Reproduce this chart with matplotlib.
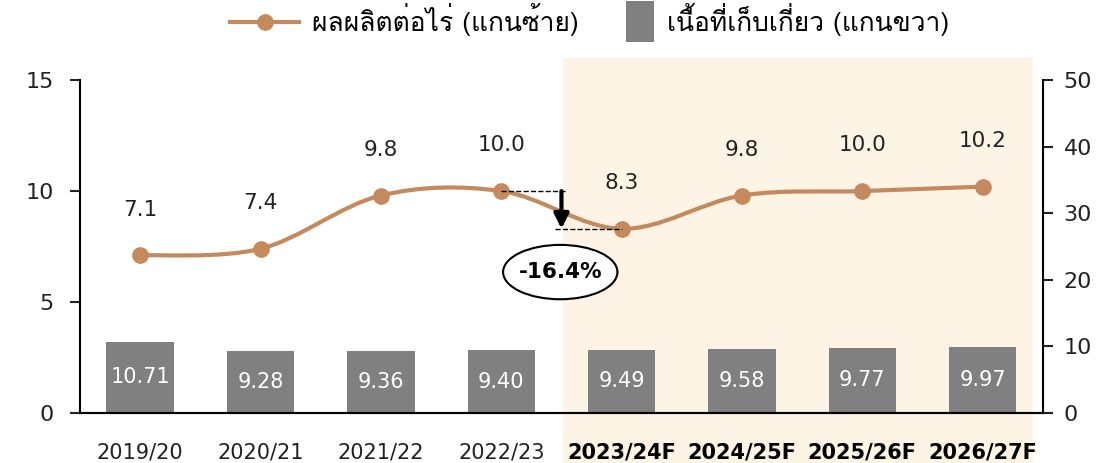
import matplotlib
matplotlib.use('Agg')
import matplotlib.pyplot as plt
from matplotlib import font_manager
from matplotlib.ft2font import FT2Font
from matplotlib.path import Path
from matplotlib.patches import PathPatch, Ellipse, Rectangle, Patch
from matplotlib.lines import Line2D
from matplotlib.legend_handler import HandlerPatch

# ข้อมูล
years = ['2019/20', '2020/21', '2021/22', '2022/23',
         '2023/24F', '2024/25F', '2025/26F', '2026/27F']
yield_per_rai = [7.1, 7.4, 9.8, 10.0, 8.3, 9.8, 10.0, 10.2]
harvest_area = [10.71, 9.28, 9.36, 9.40, 9.49, 9.58, 9.77, 9.97]
forecast_start = 4
change_label = '-16.4%'
legend_line = 'ผลผลิตต่อไร่ (แกนซ้าย)'
legend_bar = 'เนื้อที่เก็บเกี่ยว (แกนขวา)'

line_color = '#C48A5E'
bar_color = '#808080'
shade_color = '#FEF4E6'
text_color = '#222222'

# หาฟอนต์ที่มีตัวอักษรไทย
thai_font = None
for f in font_manager.fontManager.ttflist:
    try:
        if 0x0E1C in FT2Font(f.fname).get_charmap():
            thai_font = f.name
            break
    except Exception:
        pass
families = ['DejaVu Sans'] if thai_font is None else [thai_font, 'DejaVu Sans']
plt.rcParams['font.family'] = ['DejaVu Sans']

fig = plt.figure(figsize=(11.19, 4.63), dpi=100)
ax = fig.add_axes([0.0715, 0.108, 0.8605, 0.719])
ax2 = ax.twinx()
ax.set_zorder(ax2.get_zorder() + 1)
ax.patch.set_visible(False)
ax2.patch.set_visible(False)

# พื้นหลังช่วงคาดการณ์
fig.patches.append(Rectangle((0.503, 0.0), 0.42, 0.875, transform=fig.transFigure,
                             facecolor=shade_color, edgecolor='none', zorder=-5))

x = list(range(len(years)))

# แท่ง (แกนขวา)
bars = ax2.bar(x, harvest_area, width=0.56, color=bar_color, zorder=2)
ax2.bar_label(bars, labels=[f'{v:.2f}' for v in harvest_area], label_type='center',
              color='white', fontsize=15)
ax2.set_ylim(0, 50)
ax2.set_yticks([0, 10, 20, 30, 40, 50])

# เส้นโค้ง (แกนซ้าย)
verts = [(x[0], yield_per_rai[0])]
codes = [Path.MOVETO]
n = len(x)
for i in range(n - 1):
    p0 = (x[max(i - 1, 0)], yield_per_rai[max(i - 1, 0)])
    p1 = (x[i], yield_per_rai[i])
    p2 = (x[i + 1], yield_per_rai[i + 1])
    p3 = (x[min(i + 2, n - 1)], yield_per_rai[min(i + 2, n - 1)])
    c1 = (p1[0] + (p2[0] - p0[0]) / 6, p1[1] + (p2[1] - p0[1]) / 6)
    c2 = (p2[0] - (p3[0] - p1[0]) / 6, p2[1] - (p3[1] - p1[1]) / 6)
    verts += [c1, c2, p2]
    codes += [Path.CURVE4] * 3
ax.add_patch(PathPatch(Path(verts, codes), facecolor='none', edgecolor=line_color,
                       lw=3, zorder=3))
ax.plot(x, yield_per_rai, 'o', color=line_color, markersize=11, zorder=4)
for xi, v in zip(x, yield_per_rai):
    ax.annotate(f'{v:.1f}', (xi, v), xytext=(0, 33), textcoords='offset points',
                ha='center', va='center', fontsize=15.5, color=text_color)

ax.set_ylim(0, 15)
ax.set_yticks([0, 5, 10, 15])
ax.set_xlim(-0.5, 7.5)
ax2.set_xlim(-0.5, 7.5)

# ลูกศรแสดงการลดลง
i0, i1 = forecast_start - 1, forecast_start
ax.plot([x[i0], x[i0] + 0.55], [yield_per_rai[i0]] * 2, ls='--', lw=1, color='black', zorder=5)
ax.plot([x[i1] - 0.55, x[i1]], [yield_per_rai[i1]] * 2, ls='--', lw=1, color='black', zorder=5)
ax.annotate('', xy=(x[i0] + 0.5, yield_per_rai[i1]), xytext=(x[i0] + 0.5, yield_per_rai[i0]),
            arrowprops=dict(arrowstyle='-|>', lw=3, color='black', mutation_scale=22,
                            shrinkA=0, shrinkB=0), zorder=6)
ax.add_patch(Ellipse((x[i0] + 0.49, 6.35), 0.95, 2.45, facecolor='white',
                     edgecolor='black', lw=1.5, zorder=6))
ax.text(x[i0] + 0.49, 6.35, change_label, ha='center', va='center', fontsize=15.5,
        fontweight='semibold', zorder=7)

# แกน
for a in (ax, ax2):
    a.spines['top'].set_visible(False)
    a.spines['left'].set_linewidth(1.5)
    a.spines['right'].set_linewidth(1.5)
    a.spines['bottom'].set_linewidth(1.5)
ax.spines['right'].set_visible(False)
ax2.spines['left'].set_visible(False)
ax.tick_params(axis='y', direction='out', length=7, width=1.5, labelsize=16, pad=12,
               colors=text_color)
ax2.tick_params(axis='y', direction='out', length=7, width=1.5, labelsize=16, pad=8,
                colors=text_color)
ax.set_xticks(x)
ax.set_xticklabels(years)
ax.tick_params(axis='x', length=0, labelsize=15, pad=21, colors=text_color)
ax2.tick_params(axis='x', length=0, labelbottom=False)
for lbl in ax.get_xticklabels()[forecast_start:]:
    lbl.set_fontweight('bold')
    lbl.set_color('black')


# สี่เหลี่ยมในคำอธิบายแบบแคบและสูง ชิดข้อความ
def tall_box(legend, orig_handle, xdescent, ydescent, width, height, fontsize):
    w = fontsize * 1.05
    h = fontsize * 1.55
    return Rectangle((width - w - xdescent, height / 2 - h / 2 - ydescent), w, h)


handles = [Line2D([0], [0], color=line_color, lw=3, marker='o', markersize=11),
           Patch(facecolor=bar_color)]
fig.legend(handles, [legend_line, legend_bar], loc='center', ncol=2,
           bbox_to_anchor=(0.527, 0.958), frameon=False, handlelength=2.6,
           handletextpad=0.5, columnspacing=0.25,
           handler_map={Patch: HandlerPatch(patch_func=tall_box)},
           prop={'family': families, 'size': 19})

fig.savefig('out.png', dpi=100)
